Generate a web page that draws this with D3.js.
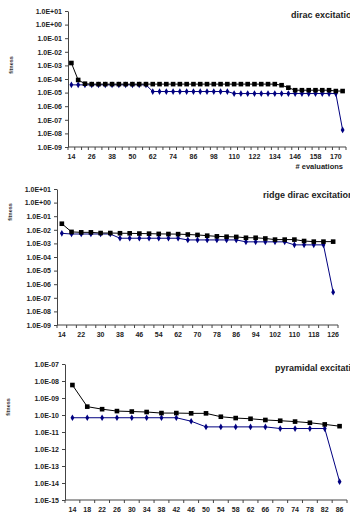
<!DOCTYPE html>
<html>
<head>
<meta charset="utf-8">
<script src="https://cdn.jsdelivr.net/npm/d3@7"></script>
<style>
  body { margin: 0; background: #fff; }
  svg { display: block; font-family: "Liberation Sans", Arial, sans-serif; }
  .axis path, .axis line { stroke: #444; }
  .axis text { fill: #222; font-weight: bold; font-size: 7px; }
</style>
</head>
<body>
<div class="visHolder"></div>
<script>
// --- chart 1: dirac excitation
var diracCats = [14,18,22,26,30,34,38,42,46,50,54,58,62,66,70,74,78,82,86,90,94,98,102,106,110,114,118,122,126,130,134,138,142,146,150,154,158,162,166,170,174];
var diracBlack = [1.5e-3,8.5e-5,4.5e-5,
  4.2e-5,4.2e-5,4.2e-5,4.2e-5,4.2e-5,4.2e-5,4.2e-5,4.2e-5,4.2e-5,4.2e-5,4.2e-5,4.2e-5,4.2e-5,4.2e-5,
  4.2e-5,4.2e-5,4.2e-5,4.2e-5,4.2e-5,4.2e-5,4.2e-5,4.2e-5,4.2e-5,4.2e-5,4.2e-5,4.2e-5,4.2e-5,4.2e-5,
  3.5e-5,2.3e-5,1.5e-5,1.5e-5,1.5e-5,1.5e-5,1.5e-5,1.5e-5,1.3e-5,1.3e-5];
var diracBlue = [3.7e-5,3.7e-5,3.7e-5,3.7e-5,3.7e-5,3.7e-5,3.7e-5,3.7e-5,3.7e-5,3.7e-5,3.7e-5,3.7e-5,
  1.2e-5,1.2e-5,1.2e-5,1.2e-5,1.2e-5,1.2e-5,1.2e-5,1.2e-5,1.2e-5,1.2e-5,1.2e-5,1.2e-5,
  8.5e-6,8.5e-6,8.5e-6,8.5e-6,8.5e-6,8.5e-6,8.5e-6,8.5e-6,8.5e-6,8.5e-6,8.5e-6,8.5e-6,8.5e-6,8.5e-6,8.5e-6,8.5e-6,
  1.8e-8];
var diracTicks = [1e1,1e0,1e-1,1e-2,1e-3,1e-4,1e-5,1e-6,1e-7,1e-8,1e-9];

// --- chart 2: ridge dirac excitation
var ridgeCats = [14,18,22,26,30,34,38,42,46,50,54,58,62,66,70,74,78,82,86,90,94,98,102,106,110,114,118,122,126];
var ridgeBlack = [2.8e-2,7.0e-3,6.5e-3,6.5e-3,5.8e-3,5.8e-3,5.6e-3,5.5e-3,5.3e-3,5.2e-3,5.0e-3,4.9e-3,4.8e-3,4.5e-3,
  4.2e-3,3.7e-3,3.3e-3,3.1e-3,3.0e-3,2.6e-3,2.6e-3,2.3e-3,1.9e-3,1.9e-3,1.9e-3,1.5e-3,1.35e-3,1.35e-3,1.35e-3];
var ridgeBlue = [5.5e-3,4.9e-3,4.9e-3,4.9e-3,4.9e-3,4.9e-3,
  2.4e-3,2.4e-3,2.4e-3,2.4e-3,2.4e-3,2.4e-3,2.4e-3,
  1.8e-3,1.8e-3,1.8e-3,1.8e-3,1.8e-3,1.8e-3,
  1.3e-3,1.3e-3,1.3e-3,1.3e-3,1.3e-3,
  7.8e-4,7.8e-4,7.8e-4,7.8e-4,2.6e-7];
var ridgeTicks = [1e1,1e0,1e-1,1e-2,1e-3,1e-4,1e-5,1e-6,1e-7,1e-8,1e-9];

// --- chart 3: pyramidal excitation
var pyrCats = [14,18,22,26,30,34,38,42,46,50,54,58,62,66,70,74,78,82,86];
var pyrBlack = [5.8e-9,3.1e-10,2.2e-10,1.7e-10,1.6e-10,1.5e-10,1.3e-10,1.3e-10,1.25e-10,1.25e-10,
  7.9e-11,6.6e-11,6.0e-11,5.1e-11,4.6e-11,4.1e-11,3.5e-11,2.8e-11,2.2e-11];
var pyrBlue = [6.9e-11,6.9e-11,6.9e-11,6.9e-11,6.9e-11,6.9e-11,6.9e-11,6.9e-11,4.3e-11,
  2.0e-11,2.0e-11,2.0e-11,2.0e-11,2.0e-11,1.6e-11,1.6e-11,1.6e-11,1.6e-11,1.2e-14];
var pyrTicks = [1e-7,1e-8,1e-9,1e-10,1e-11,1e-12,1e-13,1e-14,1e-15];

var width = 350, height = 517;

var svg = d3.select('.visHolder')
  .append('svg')
  .attr('width', width)
  .attr('height', height);

function sciFormat(v) {
  var e = Math.round(Math.log10(v));
  var a = Math.abs(e);
  return '1.0E' + (e < 0 ? '-' : '+') + (a < 10 ? '0' + a : a);
}

function drawChart(cfg) {
  var g = svg.append('g');

  var xScale = d3.scaleBand()
    .domain(cfg.cats)
    .range([cfg.left, cfg.right]);

  var yScale = d3.scaleLog()
    .domain([cfg.ticks[cfg.ticks.length - 1], cfg.ticks[0]])
    .range([cfg.bottom, cfg.top]);

  // y axis
  var yAxis = d3.axisLeft(yScale)
    .tickValues(cfg.ticks)
    .tickFormat(sciFormat)
    .tickSize(3)
    .tickSizeOuter(0)
    .tickPadding(3);
  g.append('g')
    .attr('class', 'axis')
    .attr('transform', 'translate(' + cfg.left + ',0)')
    .call(yAxis);

  // x axis: labels at centres, tick marks at category boundaries
  var xAxis = d3.axisBottom(xScale)
    .tickValues(cfg.cats.filter((d, i) => i % cfg.every == 0))
    .tickSize(0)
    .tickPadding(7);
  var xg = g.append('g')
    .attr('class', 'axis')
    .attr('transform', 'translate(0,' + cfg.bottom + ')')
    .call(xAxis);
  xg.select('.domain').attr('d', 'M' + cfg.left + ',0H' + cfg.right);
  xg.selectAll('.bound')
    .data(cfg.cats.concat(['end']))
    .enter()
    .append('line')
    .attr('class', 'bound')
    .attr('x1', d => d == 'end' ? xScale.range()[1] : xScale(d))
    .attr('x2', d => d == 'end' ? xScale.range()[1] : xScale(d))
    .attr('y1', 0)
    .attr('y2', 3);

  var cx = d => xScale(d) + xScale.bandwidth() / 2;

  var line = d3.line()
    .x((d, i) => cx(cfg.cats[i]))
    .y(d => yScale(d));

  // blue series
  g.append('path')
    .datum(cfg.blue)
    .attr('d', line)
    .attr('fill', 'none')
    .attr('stroke', '#000080')
    .attr('stroke-width', 1);
  g.selectAll('.blue')
    .data(cfg.blue)
    .enter()
    .append('path')
    .attr('class', 'blue')
    .attr('d', d3.symbol().type(d3.symbolDiamond).size(13))
    .attr('transform', (d, i) => 'translate(' + cx(cfg.cats[i]) + ',' + yScale(d) + ')')
    .style('fill', '#000080');

  // black series
  g.append('path')
    .datum(cfg.black)
    .attr('d', line)
    .attr('fill', 'none')
    .attr('stroke', '#000')
    .attr('stroke-width', 1);
  g.selectAll('.black')
    .data(cfg.black)
    .enter()
    .append('rect')
    .attr('class', 'black')
    .attr('x', (d, i) => cx(cfg.cats[i]) - 2.3)
    .attr('y', d => yScale(d) - 2.3)
    .attr('width', 4.6)
    .attr('height', 4.6)
    .style('fill', '#000');

  // titles
  g.append('text')
    .attr('x', cfg.titleX)
    .attr('y', cfg.titleY)
    .style('font-size', '9px')
    .style('font-weight', 'bold')
    .style('fill', '#222')
    .text(cfg.title);

  g.append('text')
    .attr('transform', 'translate(' + cfg.fitX + ',' + cfg.fitY + ') rotate(-90)')
    .attr('text-anchor', 'middle')
    .style('font-size', '5.5px')
    .style('font-weight', 'bold')
    .style('fill', '#333')
    .text('fitness');

  if (cfg.xTitle) {
    g.append('text')
      .attr('x', 343)
      .attr('y', cfg.bottom + 22)
      .attr('text-anchor', 'end')
      .style('font-size', '7.5px')
      .style('font-weight', 'bold')
      .style('fill', '#222')
      .text(cfg.xTitle);
  }
}

drawChart({cats: diracCats, black: diracBlack, blue: diracBlue, ticks: diracTicks, every: 3,
  left: 68, right: 346, top: 11, bottom: 147,
  title: 'dirac excitation', titleX: 291, titleY: 18, fitX: 13, fitY: 65, xTitle: '# evaluations'});

drawChart({cats: ridgeCats, black: ridgeBlack, blue: ridgeBlue, ticks: ridgeTicks, every: 2,
  left: 57, right: 338, top: 189, bottom: 325,
  title: 'ridge dirac excitation', titleX: 263, titleY: 198, fitX: 12, fitY: 212});

drawChart({cats: pyrCats, black: pyrBlack, blue: pyrBlue, ticks: pyrTicks, every: 1,
  left: 65, right: 347, top: 364, bottom: 500,
  title: 'pyramidal excitation', titleX: 275, titleY: 371, fitX: 10, fitY: 407});
</script>
</body>
</html>
